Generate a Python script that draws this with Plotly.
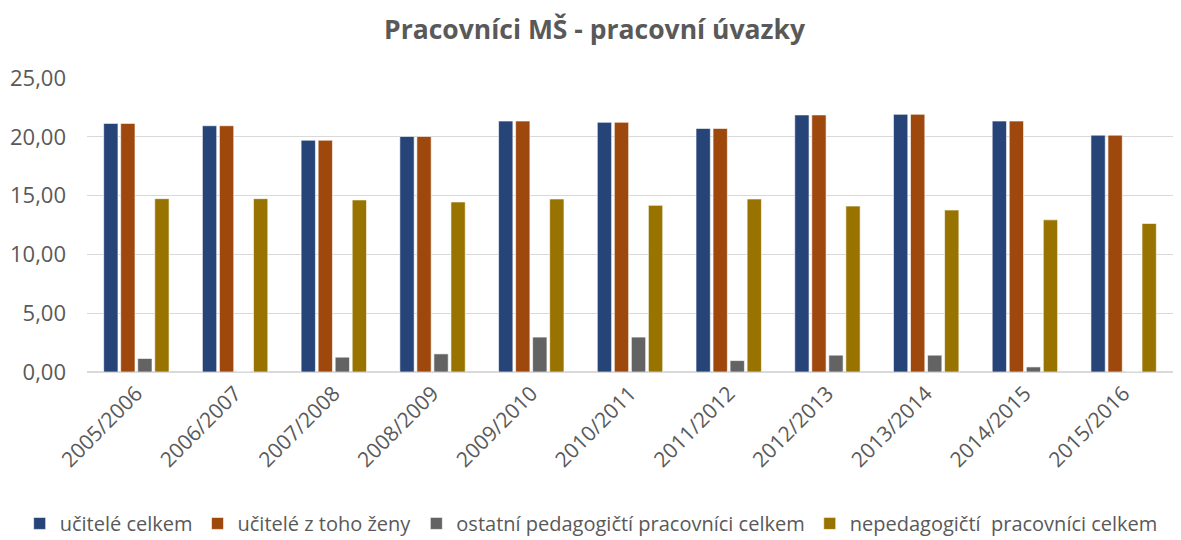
import plotly.graph_objects as go

years = ["2005/2006", "2006/2007", "2007/2008", "2008/2009", "2009/2010", "2010/2011",
         "2011/2012", "2012/2013", "2013/2014", "2014/2015", "2015/2016"]
ucitele_celkem = [21.14, 20.94, 19.71, 20.03, 21.34, 21.23, 20.71, 21.86, 21.91, 21.34, 20.14]
ucitele_zeny = [21.14, 20.94, 19.71, 20.03, 21.34, 21.23, 20.71, 21.86, 21.91, 21.34, 20.14]
ostatni_ped = [1.15, 0.0, 1.26, 1.54, 2.97, 2.97, 0.97, 1.43, 1.43, 0.43, 0.0]
nepedagogicti = [14.74, 14.74, 14.63, 14.46, 14.71, 14.17, 14.71, 14.11, 13.77, 12.94, 12.63]

series = [
    ("učitelé celkem", ucitele_celkem, "#264478"),
    ("učitelé z toho ženy", ucitele_zeny, "#9E480E"),
    ("ostatní pedagogičtí pracovníci celkem", ostatni_ped, "#636363"),
    ("nepedagogičtí  pracovníci celkem", nepedagogicti, "#997300"),
]

fig = go.Figure()
for name, vals, col in series:
    fig.add_trace(go.Bar(x=years, y=vals, name=name, marker_color=col,
                         marker_line=dict(color="white", width=0.6)))

font_family = "'Open Sans', sans-serif"
fig.update_layout(
    width=1173, height=532,
    paper_bgcolor="white", plot_bgcolor="white",
    margin=dict(l=79, r=8, t=70, b=168, autoexpand=False),
    title=dict(text="<b>Pracovníci MŠ - pracovní úvazky</b>", x=0.5, xanchor="center",
               y=0.96, yanchor="middle",
               font=dict(family=font_family, size=26.5, color="#595959")),
    barmode="group", bargap=0.31, bargroupgap=0.16,
    separators=",.",
    font=dict(family=font_family, color="#595959"),
    legend=dict(orientation="h", x=-0.062, xanchor="left", y=-0.515, yanchor="middle",
                font=dict(family=font_family, size=20, color="#595959"),
                itemwidth=30, traceorder="normal"),
    showlegend=True,
)
fig.update_yaxes(range=[0, 25], dtick=5, tickformat=".2f", showgrid=True,
                 gridcolor="#D9D9D9", gridwidth=1, zeroline=True, zerolinecolor="#D9D9D9",
                 tickfont=dict(family=font_family, size=22, color="#595959"),
                 ticks="", showline=False, ticklabelstandoff=20, automargin=False)
fig.update_xaxes(tickangle=-45, tickfont=dict(family=font_family, size=21, color="#595959"),
                 showline=True, linecolor="#D9D9D9", ticks="", showgrid=False,
                 automargin=False)

fig.write_html("out.html")
